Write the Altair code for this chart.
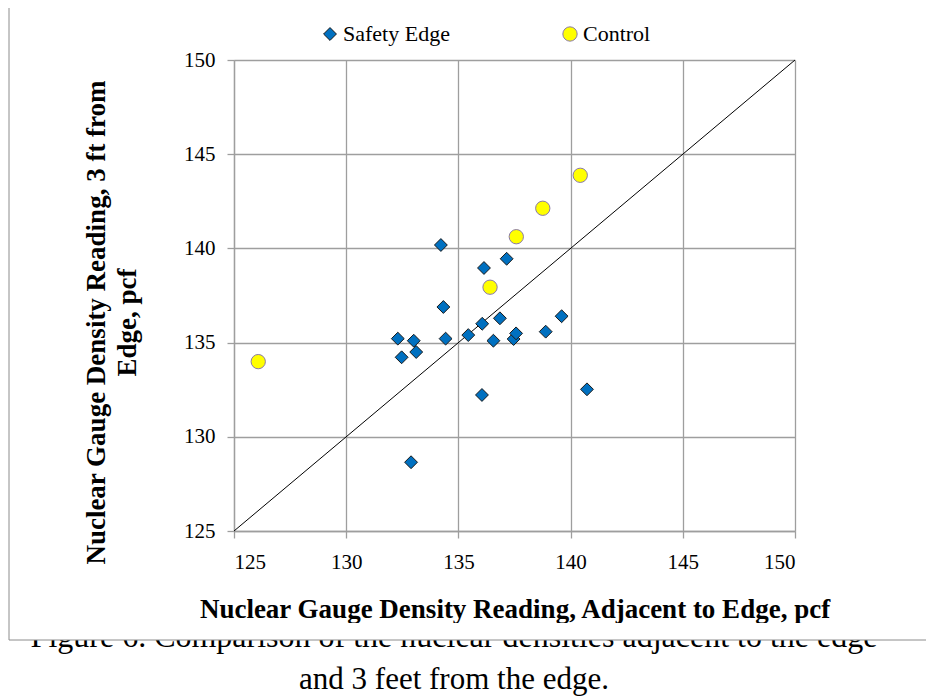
import altair as alt
import pandas as pd

# ---- data ----
safety_x = [134.22, 136.14, 137.15, 134.33, 132.30, 133.01, 133.12, 132.47, 134.43, 135.44,
            136.06, 136.85, 136.56, 137.46, 137.57, 136.05, 132.89, 139.60, 138.89, 140.73]
safety_y = [140.18, 138.96, 139.45, 136.89, 135.21, 135.10, 134.50, 134.22, 135.21, 135.40,
            136.00, 136.29, 135.10, 135.19, 135.49, 132.22, 128.65, 136.40, 135.58, 132.52]
control_x = [126.08, 136.41, 137.58, 138.76, 140.43]
control_y = [133.99, 137.94, 140.62, 142.13, 143.88]
series = ["Safety Edge", "Control"]
ticks = [125, 130, 135, 140, 145, 150]
diag = [125, 150]
x_title = "Nuclear Gauge Density Reading, Adjacent to Edge, pcf"
y_title = ["Nuclear Gauge Density Reading, 3 ft from", "Edge, pcf"]
caption1 = "Figure 6. Comparison of the nuclear densities adjacent to the edge"
caption2 = "and 3 feet from the edge."

df = pd.DataFrame({
    "x": safety_x + control_x,
    "y": safety_y + control_y,
    "group": [series[0]] * len(safety_x) + [series[1]] * len(control_x),
})
diag_df = pd.DataFrame({"x": diag, "y": diag})

FONT = "Liberation Serif"
GRID = "#9E9E9E"
W, H = 561, 471
TOTAL_H = 688

xenc = alt.X("x:Q", scale=alt.Scale(domain=[125, 150], nice=False, zero=False),
             axis=alt.Axis(values=ticks, title=x_title, titleY=86, titleBaseline="alphabetic",
                           labelPadding=13))
yenc = alt.Y("y:Q", scale=alt.Scale(domain=[125, 150], nice=False, zero=False),
             axis=alt.Axis(values=ticks, title=y_title, titleAngle=270, titleX=-130, titleY=262,
                           titleAlign="center", titleBaseline="alphabetic", titleLineHeight=31,
                           labelPadding=12))

leg = alt.Legend(title=None, orient="none", legendX=85, legendY=-37, direction="horizontal",
                 labelFont=FONT, labelFontSize=22, labelColor="black", labelOffset=2,
                 columnPadding=109, padding=0, symbolStrokeWidth=1)

points = alt.Chart(df).mark_point(filled=True, opacity=1, strokeWidth=1).encode(
    x=xenc, y=yenc,
    shape=alt.Shape("group:N", scale=alt.Scale(domain=series, range=["diamond", "circle"]), legend=leg),
    fill=alt.Fill("group:N", scale=alt.Scale(domain=series, range=["#0070C0", "#FFFF00"]), legend=leg),
    stroke=alt.Stroke("group:N", scale=alt.Scale(domain=series, range=["#1A1A1A", "#8A7AA8"]), legend=leg),
    size=alt.Size("group:N", scale=alt.Scale(domain=series, range=[165, 205]), legend=leg),
)

line = alt.Chart(diag_df).mark_line(color="black", strokeWidth=1).encode(x=xenc, y=yenc)

one = alt.Data(values=[{"t1": caption1, "t2": caption2}])

cap1 = alt.Chart(one).mark_text(font=FONT, fontSize=32, align="center", baseline="alphabetic",
                                color="black").encode(
    x=alt.value(220), y=alt.value(587), text="t1:N")
# white band hiding the top of the first caption line, as in the reference
cover = alt.Chart(one).mark_rule(color="white", strokeWidth=17).encode(
    x=alt.value(-230), x2=alt.value(700), y=alt.value(571.5))
frame_left = alt.Chart(one).mark_rule(color="#8C8C8C", strokeWidth=1).encode(
    x=alt.value(-225), y=alt.value(-52), y2=alt.value(580))
frame_bottom = alt.Chart(one).mark_rule(color="#8C8C8C", strokeWidth=1).encode(
    x=alt.value(-225), x2=alt.value(700), y=alt.value(580))
cap2 = alt.Chart(one).mark_text(font=FONT, fontSize=31, align="center", baseline="alphabetic",
                                color="black").encode(
    x=alt.value(220), y=alt.value(629), text="t2:N")

chart = alt.layer(cap1, cover, frame_left, frame_bottom, line, points, cap2).properties(
    width=W, height=H,
    autosize=alt.AutoSizeParams(type="none"),
    padding={"left": 226, "top": 52, "right": 918 - 226 - W, "bottom": TOTAL_H - 52 - H},
).configure_view(stroke=None).configure_axis(
    labelFont=FONT, labelFontSize=21, labelColor="black",
    titleFont=FONT, titleFontSize=27, titleFontWeight="bold", titleColor="black",
    grid=True, gridColor=GRID, gridWidth=1.3,
    domainColor=GRID, domainWidth=1.3, tickColor=GRID, tickWidth=1.3, tickSize=7,
)

chart.save("out.html", embed_options={"renderer": "svg", "actions": False})
